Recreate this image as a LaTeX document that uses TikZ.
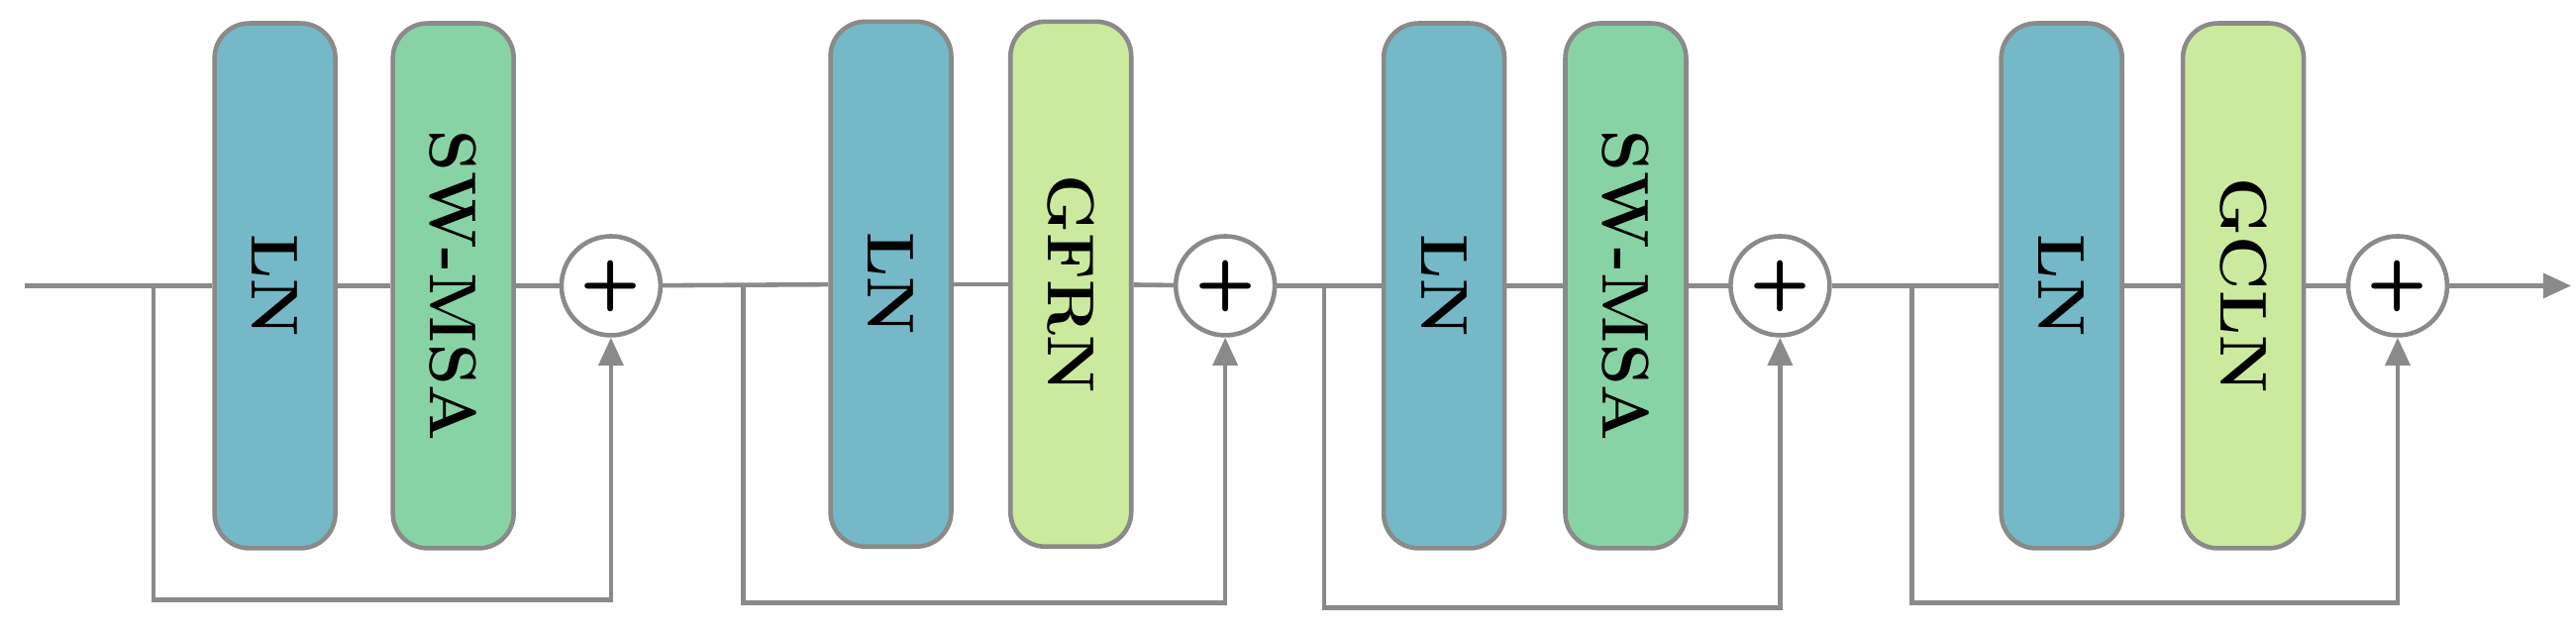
\documentclass[tikz,border=0pt]{standalone}
\usepackage{fontspec}
\usetikzlibrary{arrows.meta}
\definecolor{ln}{HTML}{75B8C8}
\definecolor{sw}{HTML}{88D3A5}
\definecolor{gf}{HTML}{CBEA9E}
\definecolor{gr}{HTML}{8A8A8A}
\begin{document}
\begin{tikzpicture}[x=0.016673cm,y=-0.016673cm,
  box/.style={draw=gr,line width=1.3pt,rounded corners=11pt,minimum width=73\pgfunit-0pt,inner sep=0pt},
  blk/.style={draw=gr,line width=1.3pt,rounded corners=10pt,inner sep=0pt},
  lbl/.style={rotate=-90,font=\fontsize{19}{19}\selectfont\bfseries},
  plus/.style={circle,draw=gr,fill=white,line width=1.3pt,minimum size=1cm,inner sep=0pt,font=\sffamily\bfseries\fontsize{20}{20}\selectfont},
  ln/.style={gr,line width=1.3pt},
  arr/.style={ln,-{Triangle[length=8pt,width=7pt]}}]
\useasboundingbox (0,0) rectangle (1560,385);
\coordinate (s) at (15,173);
% block 1
\node[blk,fill=ln,minimum width=1.22cm,minimum height=5.3cm] (a1) at (166.5,173) {};
\node[lbl] at (a1) {LN};
\node[blk,fill=sw,minimum width=1.22cm,minimum height=5.3cm] (b1) at (274.5,173) {};
\node[lbl] at (b1) {SW-MSA};
\node[plus] (p1) at (370,173) {+};
\coordinate (k1) at (93,173);
% block 2
\node[blk,fill=ln,minimum width=1.22cm,minimum height=5.3cm] (a2) at (539.5,172) {};
\node[lbl] at (a2) {LN};
\node[blk,fill=gf,minimum width=1.22cm,minimum height=5.3cm] (b2) at (648.5,172) {};
\node[lbl] at (b2) {GFRN};
\node[plus] (p2) at (742,173) {+};
\coordinate (k2) at (450,173);
% block 3
\node[blk,fill=ln,minimum width=1.22cm,minimum height=5.3cm] (a3) at (874.5,173) {};
\node[lbl] at (a3) {LN};
\node[blk,fill=sw,minimum width=1.22cm,minimum height=5.3cm] (b3) at (984.5,173) {};
\node[lbl] at (b3) {SW-MSA};
\node[plus] (p3) at (1078,173) {+};
\coordinate (k3) at (802,173);
% block 4
\node[blk,fill=ln,minimum width=1.22cm,minimum height=5.3cm] (a4) at (1248.5,173) {};
\node[lbl] at (a4) {LN};
\node[blk,fill=gf,minimum width=1.22cm,minimum height=5.3cm] (b4) at (1358.5,173) {};
\node[lbl] at (b4) {GCLN};
\node[plus] (p4) at (1452,173) {+};
\coordinate (k4) at (1158,173);
\coordinate (e) at (1557,173);
% connectors
\draw[ln] (s) -- (a1);
\draw[ln] (a1) -- (b1);
\draw[ln] (b1) -- (p1);
\draw[ln] (p1) -- (a2);
\draw[ln] (a2) -- (b2);
\draw[ln] (b2) -- (p2);
\draw[ln] (p2) -- (a3);
\draw[ln] (a3) -- (b3);
\draw[ln] (b3) -- (p3);
\draw[ln] (p3) -- (a4);
\draw[ln] (a4) -- (b4);
\draw[ln] (b4) -- (p4);
\draw[arr] (p4) -- (e);
\draw[arr] (k1) |- (232,363) -| (p1);
\draw[arr] (k2) |- (600,365) -| (p2);
\draw[arr] (k3) |- (940,368) -| (p3);
\draw[arr] (k4) |- (1300,365) -| (p4);
\end{tikzpicture}
\end{document}
